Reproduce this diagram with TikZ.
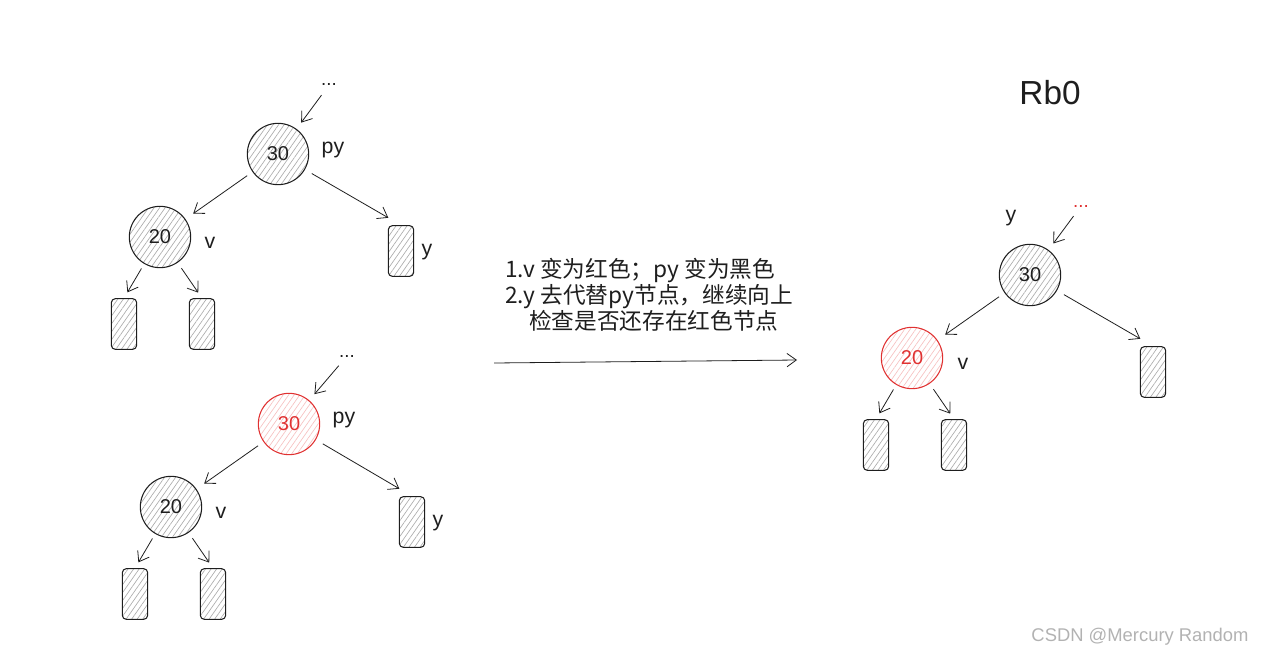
\documentclass[tikz,border=0pt]{standalone}
\usepackage{fontspec}
\setmainfont{Liberation Sans}
\newfontfamily\cjk{Noto Sans CJK SC}
\usetikzlibrary{arrows.meta, patterns.meta}
\definecolor{inkdark}{RGB}{30, 30, 30}
\definecolor{rbred}{RGB}{224, 49, 49}

\begin{document}
\begin{tikzpicture}[x=0.75pt, y=-0.75pt,
  blacknode/.style={circle, draw=inkdark, line width=0.8pt, minimum size=46pt, inner sep=0pt,
    pattern={Lines[angle=55, distance=3.4pt, line width=0.5pt]}, pattern color=gray!65,
    font=\fontsize{15}{15}\selectfont, text=inkdark},
  rednode/.style={blacknode, draw=rbred, pattern color=rbred!30, text=rbred},
  leaf/.style={rectangle, rounded corners=3pt, draw=inkdark, line width=0.8pt,
    minimum width=19pt, minimum height=38pt, inner sep=0pt,
    pattern={Lines[angle=55, distance=3.4pt, line width=0.5pt]}, pattern color=gray!65},
  edge/.style={draw=inkdark, line width=0.6pt, -{Straight Barb[length=7pt, width=10pt]}},
  lbl/.style={font=\fontsize{16}{16}\selectfont, text=inkdark},
  dots/.style={font=\fontsize{14}{14}\selectfont, inner sep=1pt, text=inkdark}]

  \useasboundingbox (0, 0) rectangle (1264, 657);

  % Before: py black
  \node[dots] (d1) at (329, 85) {...};
  \node[blacknode] (py1) at (278, 154) {30};
  \node[blacknode] (v1) at (160, 237) {20};
  \node[leaf] (y1) at (401, 251) {};
  \node[leaf] (l1) at (124, 324) {};
  \node[leaf] (r1) at (202, 324) {};
  \node[lbl] at (333, 150) {py};
  \node[lbl] at (210, 243) {v};
  \node[lbl] at (427, 252) {y};
  \draw[edge, shorten <=7pt, shorten >=6pt] (d1) -- (py1);
  \draw[edge, shorten <=5pt, shorten >=7pt] (py1) -- (v1);
  \draw[edge, shorten <=6pt, shorten >=11pt] (py1) -- (y1.north);
  \draw[edge, shorten <=4pt, shorten >=5pt] (v1) -- (l1.north);
  \draw[edge, shorten <=5pt, shorten >=5pt] (v1) -- (r1.north);

  % Before: py red
  \node[dots] (d2) at (347, 356) {...};
  \node[rednode] (py2) at (289, 424) {30};
  \node[blacknode] (v2) at (171, 507) {20};
  \node[leaf] (y2) at (412, 522) {};
  \node[leaf] (l2) at (135, 594) {};
  \node[leaf] (r2) at (213, 594) {};
  \node[lbl] at (344, 420) {py};
  \node[lbl] at (221, 513) {v};
  \node[lbl] at (438, 523) {y};
  \draw[edge, shorten <=7pt, shorten >=6pt] (d2) -- (py2);
  \draw[edge, shorten <=5pt, shorten >=7pt] (py2) -- (v2);
  \draw[edge, shorten <=6pt, shorten >=11pt] (py2) -- (y2.north);
  \draw[edge, shorten <=4pt, shorten >=5pt] (v2) -- (l2.north);
  \draw[edge, shorten <=5pt, shorten >=5pt] (v2) -- (r2.north);

  % Steps
  \node[anchor=west, align=left, inner sep=0pt, text=inkdark,
    font=\cjk\fontsize{17}{19.5}\selectfont] (steps) at (505, 295) {
    1.v 变为红色；py 变为黑色\\
    2.y 去代替py节点，继续向上\\
    \hspace*{18pt}检查是否还存在红色节点};
  \coordinate (go1) at (494, 363);
  \coordinate (go2) at (797, 360);
  \draw[edge] (go1) -- (go2);

  % After
  \node[font=\fontsize{25}{25}\selectfont, text=inkdark] (title) at (1050, 93) {Rb0};
  \node[dots, text=rbred] (d3) at (1081, 206) {...};
  \node[blacknode] (py3) at (1030, 275) {30};
  \node[rednode] (v3) at (912, 358) {20};
  \node[leaf] (y3) at (1153, 372) {};
  \node[leaf] (l3) at (876, 445) {};
  \node[leaf] (r3) at (954, 445) {};
  \node[lbl] at (1011, 218) {y};
  \node[lbl] at (963, 364) {v};
  \draw[edge, shorten <=7pt, shorten >=6pt] (d3) -- (py3);
  \draw[edge, shorten <=5pt, shorten >=7pt] (py3) -- (v3);
  \draw[edge, shorten <=6pt, shorten >=11pt] (py3) -- (y3.north);
  \draw[edge, shorten <=4pt, shorten >=5pt] (v3) -- (l3.north);
  \draw[edge, shorten <=5pt, shorten >=5pt] (v3) -- (r3.north);

  \node[font=\fontsize{13.8}{13.8}\selectfont, text=gray!60] (mark) at (1140, 637) {CSDN @Mercury Random};
\end{tikzpicture}
\end{document}
